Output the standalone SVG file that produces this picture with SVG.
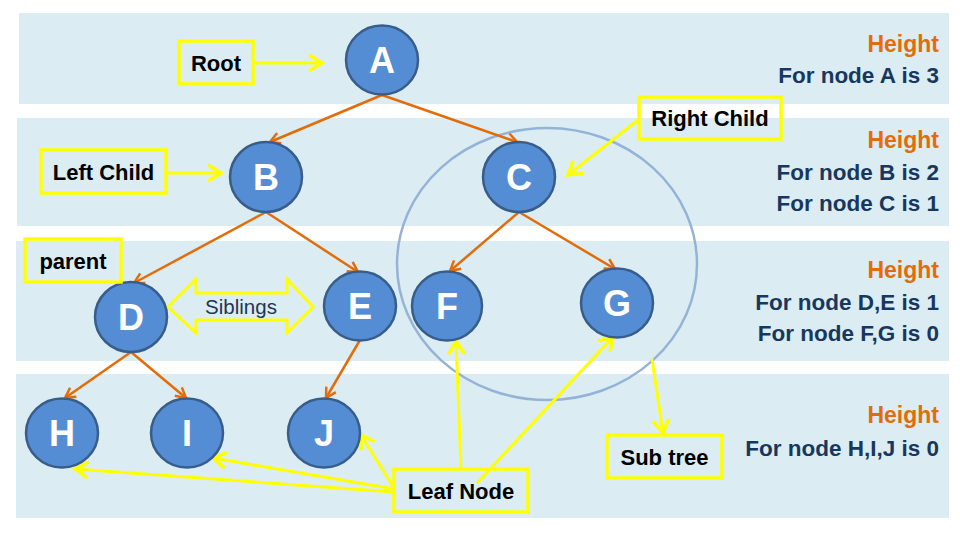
<svg xmlns="http://www.w3.org/2000/svg" width="960" height="540" viewBox="0 0 960 540">
<defs>
<style>
.band{fill:#DBEDF3}
.node ellipse{fill:#548DD4;stroke:#385D8A;stroke-width:2.5}
.node text{font-family:"Liberation Sans",Arial,sans-serif;font-weight:bold;font-size:36px;fill:#FFFFFF;text-anchor:middle}
.edge{stroke:#E36C09;stroke-width:2.5;fill:none;marker-end:url(#oa)}
.ylink{stroke:#FFFF00;stroke-width:3;fill:none;marker-end:url(#ya)}
.lbl rect{fill:none;stroke:#FFFF00;stroke-width:3.5}
.lbl text{font-family:"Liberation Sans",Arial,sans-serif;font-weight:bold;font-size:22px;fill:#000000;text-anchor:middle}
.h{font-family:"Liberation Sans",Arial,sans-serif;font-weight:bold;font-size:23px;fill:#E36C09;text-anchor:end}
.d{font-family:"Liberation Sans",Arial,sans-serif;font-weight:bold;font-size:22.5px;fill:#17375E;text-anchor:end}
</style>
<marker id="oa" viewBox="0 0 14 14" refX="12" refY="7" markerWidth="14" markerHeight="14" markerUnits="userSpaceOnUse" orient="auto">
<path d="M2,1.5 L12,7 L2,12.5" fill="none" stroke="#E36C09" stroke-width="2.5"/>
</marker>
<marker id="ya" viewBox="0 0 20 20" refX="17" refY="10" markerWidth="20" markerHeight="20" markerUnits="userSpaceOnUse" orient="auto">
<path d="M4,2 L17,10 L4,18" fill="none" stroke="#FFFF00" stroke-width="3.5"/>
</marker>
</defs>
<rect width="960" height="540" fill="#FFFFFF"/>
<g id="bands">
<rect class="band" x="19" y="13" width="930" height="91"/>
<rect class="band" x="17" y="118" width="932" height="108"/>
<rect class="band" x="16" y="241" width="933" height="120"/>
<rect class="band" x="16" y="374" width="933" height="144"/>
</g>
<g id="heights">
<text class="h" x="939" y="52">Height</text>
<text class="d" x="939" y="83">For node A is 3</text>
<text class="h" x="939" y="148">Height</text>
<text class="d" x="939" y="180">For node B is 2</text>
<text class="d" x="939" y="211">For node C is 1</text>
<text class="h" x="939" y="278">Height</text>
<text class="d" x="939" y="310">For node D,E is 1</text>
<text class="d" x="939" y="341">For node F,G is 0</text>
<text class="h" x="939" y="423">Height</text>
<text class="d" x="939" y="456">For node H,I,J is 0</text>
</g>
<g id="subtree-outline">
<ellipse cx="547" cy="264" rx="150" ry="136" fill="none" stroke="#95B3D7" stroke-width="2.5"/>
</g>
<g id="connectors">
<line class="edge" x1="382" y1="95" x2="270" y2="142"/>
<line class="edge" x1="382" y1="95" x2="517" y2="142"/>
<line class="edge" x1="266" y1="212" x2="134" y2="283"/>
<line class="edge" x1="266" y1="212" x2="358" y2="272"/>
<line class="edge" x1="519" y1="212" x2="450" y2="271"/>
<line class="edge" x1="519" y1="212" x2="615" y2="269"/>
<line class="edge" x1="131" y1="352" x2="65" y2="398"/>
<line class="edge" x1="131" y1="352" x2="186" y2="398"/>
<line class="edge" x1="360" y1="340" x2="326" y2="398"/>
<line class="ylink" x1="253" y1="63" x2="322" y2="63"/>
<line class="ylink" x1="166" y1="173" x2="221" y2="173"/>
<line class="ylink" x1="638" y1="120" x2="568" y2="175"/>
<line class="ylink" x1="394" y1="492" x2="75" y2="469"/>
<line class="ylink" x1="394" y1="489" x2="213" y2="458"/>
<line class="ylink" x1="394" y1="488" x2="361" y2="435"/>
<line class="ylink" x1="461" y1="469" x2="456" y2="341"/>
<line class="ylink" x1="477" y1="483" x2="613" y2="337"/>
<line class="ylink" x1="652" y1="359" x2="663" y2="433"/>
<polygon points="168,307 196,279 196,293 287,293 287,279 313,307 287,333 287,320 196,320 196,333" fill="none" stroke="#FFFF00" stroke-width="3"/>
</g>
<g id="node-A" class="node"><ellipse cx="382" cy="60" rx="36" ry="34.5"/><text x="382" y="73">A</text></g>
<g id="node-B" class="node"><ellipse cx="266" cy="177" rx="36" ry="35"/><text x="266" y="190">B</text></g>
<g id="node-C" class="node"><ellipse cx="519" cy="177" rx="36" ry="35"/><text x="519" y="190">C</text></g>
<g id="node-D" class="node"><ellipse cx="131" cy="317" rx="36" ry="35"/><text x="131" y="330">D</text></g>
<g id="node-E" class="node"><ellipse cx="360" cy="306" rx="36" ry="34.5"/><text x="360" y="319">E</text></g>
<g id="node-F" class="node"><ellipse cx="447" cy="306" rx="35" ry="34.5"/><text x="447" y="319">F</text></g>
<g id="node-G" class="node"><ellipse cx="617" cy="303" rx="36" ry="34.5"/><text x="617" y="316">G</text></g>
<g id="node-H" class="node"><ellipse cx="62" cy="433" rx="36" ry="34.5"/><text x="62" y="446">H</text></g>
<g id="node-I" class="node"><ellipse cx="187" cy="433" rx="36" ry="34.5"/><text x="187" y="446">I</text></g>
<g id="node-J" class="node"><ellipse cx="324" cy="433" rx="36" ry="34.5"/><text x="324" y="446">J</text></g>
<g id="label-root" class="lbl"><rect x="179" y="41" width="74" height="43"/><text x="216" y="71">Root</text></g>
<g id="label-left-child" class="lbl"><rect x="41" y="150" width="125" height="43"/><text x="103.5" y="180">Left Child</text></g>
<g id="label-right-child" class="lbl"><rect x="639" y="97" width="142" height="42"/><text x="710" y="126">Right Child</text></g>
<g id="label-parent" class="lbl"><rect x="25" y="239" width="96" height="43"/><text x="73" y="269">parent</text></g>
<g id="label-siblings"><text x="241" y="314" font-family="Liberation Sans, Arial, sans-serif" font-size="20.5" fill="#1F3556" text-anchor="middle">Siblings</text></g>
<g id="label-leaf-node" class="lbl"><rect x="394" y="469" width="134" height="43"/><text x="461" y="499">Leaf Node</text></g>
<g id="label-sub-tree" class="lbl"><rect x="607" y="435" width="115" height="43"/><text x="664.5" y="465">Sub tree</text></g>
</svg>
